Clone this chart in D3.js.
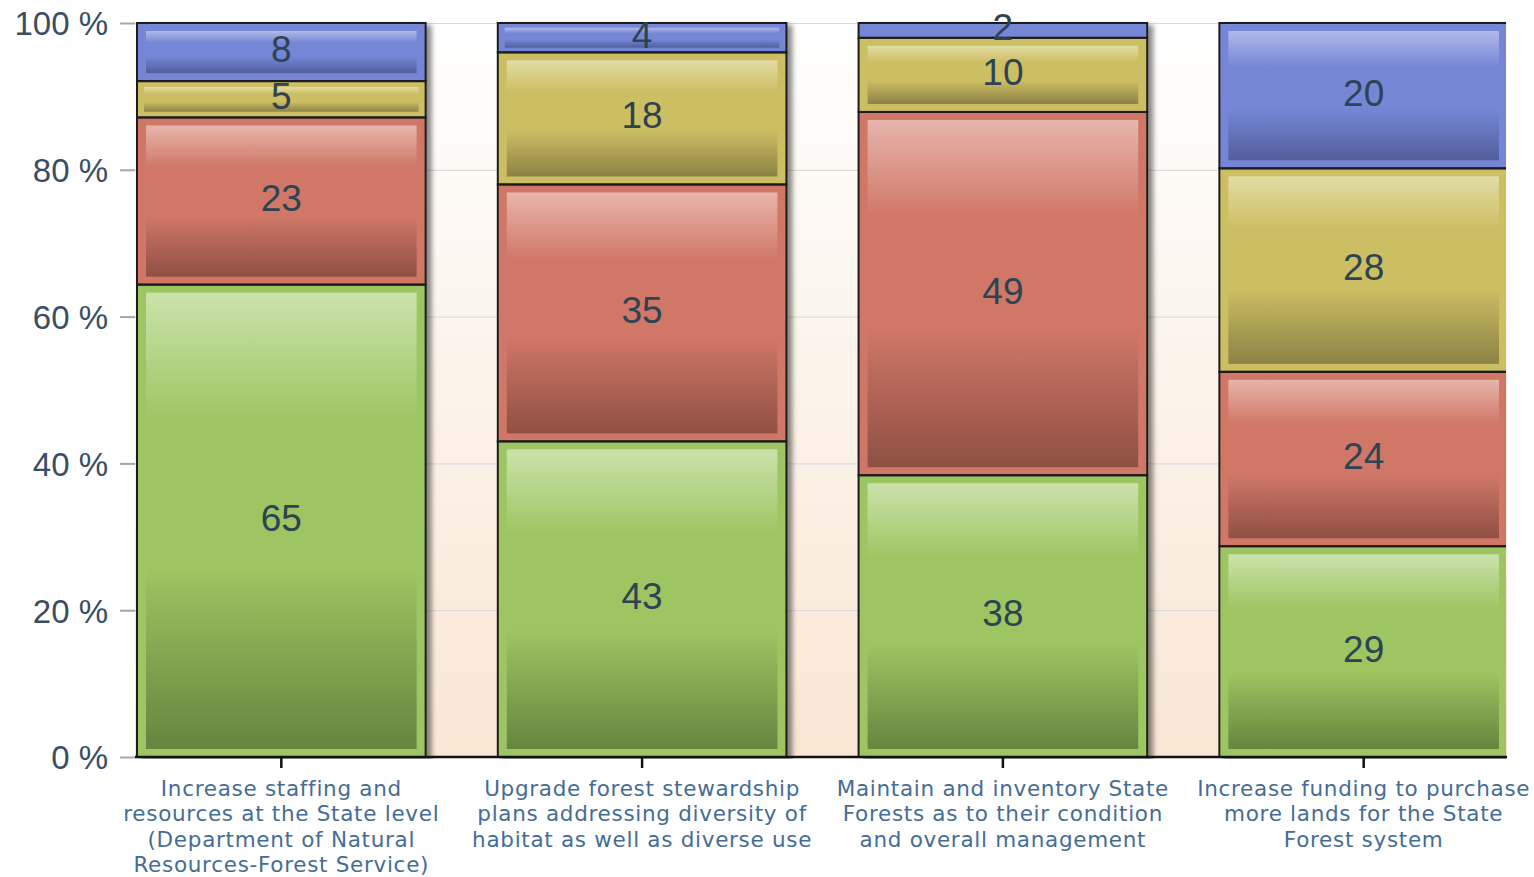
<!DOCTYPE html>
<html>
<head>
<meta charset="utf-8">
<script src="https://cdn.jsdelivr.net/npm/d3@7"></script>
<style>
  html, body { margin: 0; padding: 0; background: #ffffff; }
  svg { display: block; }
</style>
</head>
<body>
<svg id="chart" width="1534" height="877"></svg>
<script>
// Survey priorities, stacked to 100 % per category
const categories = [
  ["Increase staffing and", "resources at the State level", "(Department of Natural", "Resources-Forest Service)"],
  ["Upgrade forest stewardship", "plans addressing diversity of", "habitat as well as diverse use"],
  ["Maintain and inventory State", "Forests as to their condition", "and overall management"],
  ["Increase funding to purchase", "more lands for the State", "Forest system"]
];
const greenValues  = [65, 43, 38, 29];
const redValues    = [23, 35, 49, 24];
const yellowValues = [5, 18, 10, 28];
const blueValues   = [8, 4, 2, 20];
const yTicks = [0, 20, 40, 60, 80, 100];
const yTickLabels = ["0 %", "20 %", "40 %", "60 %", "80 %", "100 %"];

const seriesKeys = ["green", "red", "yellow", "blue"];
const seriesValues = { green: greenValues, red: redValues, yellow: yellowValues, blue: blueValues };
const palette = {
  green:  { base: "#9dc662", light: "#cbe2ab", dark: "#66853f" },
  red:    { base: "#d07767", light: "#e6b5ab", dark: "#8f5044" },
  yellow: { base: "#ccbe62", light: "#e2dca6", dark: "#8c8246" },
  blue:   { base: "#7586d6", light: "#b0b9e8", dark: "#525e9c" }
};

const rows = categories.map((c, i) => {
  const r = { idx: i };
  seriesKeys.forEach(k => { r[k] = seriesValues[k][i]; });
  return r;
});

const plot = { left: 135, right: 1507, top: 23, bottom: 757 };

const svg = d3.select("#chart");
const defs = svg.append("defs");

// plot background: white fading to peach
const bg = defs.append("linearGradient").attr("id", "plotBg")
  .attr("x1", 0).attr("y1", 0).attr("x2", 0).attr("y2", 1);
bg.append("stop").attr("offset", 0).attr("stop-color", "#ffffff");
bg.append("stop").attr("offset", 1).attr("stop-color", "#f9e7d4");

seriesKeys.forEach(k => {
  const g = defs.append("linearGradient").attr("id", "grad-" + k)
    .attr("x1", 0).attr("y1", 0).attr("x2", 0).attr("y2", 1);
  g.append("stop").attr("offset", 0).attr("stop-color", palette[k].light);
  g.append("stop").attr("offset", 0.28).attr("stop-color", palette[k].base);
  g.append("stop").attr("offset", 0.6).attr("stop-color", palette[k].base);
  g.append("stop").attr("offset", 1).attr("stop-color", palette[k].dark);
});

const shadow = defs.append("filter").attr("id", "barShadow")
  .attr("x", "-5%").attr("y", "-5%").attr("width", "115%").attr("height", "115%");
shadow.append("feDropShadow").attr("dx", 5).attr("dy", 3)
  .attr("stdDeviation", 2.5).attr("flood-color", "#000").attr("flood-opacity", 0.45);

defs.append("clipPath").attr("id", "plotClip").append("rect")
  .attr("x", plot.left).attr("y", plot.top - 2)
  .attr("width", plot.right - 1 - plot.left).attr("height", plot.bottom - plot.top + 4);

const x = d3.scaleBand()
  .domain(d3.range(categories.length))
  .range([137, 1508])
  .paddingInner(0.2)
  .paddingOuter(0);

const y = d3.scaleLinear().domain([0, 100]).range([plot.bottom, plot.top]);

svg.append("rect")
  .attr("x", plot.left).attr("y", plot.top)
  .attr("width", plot.right - plot.left).attr("height", plot.bottom - plot.top)
  .attr("fill", "url(#plotBg)");

// gridlines + y ticks
const yAxis = d3.axisLeft(y).tickValues(yTicks)
  .tickSize(plot.right - plot.left + 15)
  .tickFormat((d, i) => yTickLabels[i]);
const yg = svg.append("g").attr("transform", `translate(${plot.right},0)`).call(yAxis);
yg.select(".domain").remove();
yg.selectAll(".tick line").attr("stroke", "#dcdcdc").attr("stroke-width", 1.2);
yg.selectAll(".tick").append("line")
  .attr("x1", -(plot.right - plot.left) - 15).attr("x2", -(plot.right - plot.left))
  .attr("stroke", "#a6a6a6").attr("stroke-width", 2);
yg.selectAll(".tick text")
  .attr("x", -(plot.right - plot.left) - 27)
  .attr("dy", "0.36em")
  .attr("font-family", "'Liberation Sans', Arial, sans-serif")
  .attr("font-size", 33)
  .attr("fill", "#3a4d63");

// stacked bars
const stack = d3.stack().keys(seriesKeys).offset(d3.stackOffsetExpand);
const stacked = stack(rows);

const barsLayer = svg.append("g").attr("clip-path", "url(#plotClip)");
const bars = barsLayer.selectAll("g.bar")
  .data(d3.range(categories.length))
  .join("g").attr("class", "bar")
  .attr("filter", "url(#barShadow)");

const segments = [];
stacked.forEach(layer => {
  layer.forEach((seg, i) => {
    segments.push({ key: layer.key, i, y0: seg[0] * 100, y1: seg[1] * 100, value: seriesValues[layer.key][i] });
  });
});

bars.each(function (i) {
  const g = d3.select(this);
  const segs = segments.filter(s => s.i === i);
  const bx = x(i), bw = x.bandwidth();
  segs.forEach(s => {
    const top = y(s.y1), bot = y(s.y0), h = bot - top;
    g.append("rect")
      .attr("x", bx).attr("y", top).attr("width", bw).attr("height", h)
      .attr("fill", palette[s.key].base);
    if (h >= 20) {
      const vpad = Math.min(8, h * 0.16);
      const hpad = h >= 45 ? 9 : 7;
      g.append("rect")
        .attr("x", bx + hpad).attr("y", top + vpad)
        .attr("width", bw - 2 * hpad).attr("height", h - 2 * vpad)
        .attr("fill", `url(#grad-${s.key})`);
    }
  });
  // dark outlines between and around segments
  segs.forEach(s => {
    const top = y(s.y1), bot = y(s.y0);
    g.append("rect")
      .attr("x", bx).attr("y", top).attr("width", bw).attr("height", bot - top)
      .attr("fill", "none").attr("stroke", "#1e1e1e").attr("stroke-width", 2);
  });
});

// value labels
svg.append("g").selectAll("text")
  .data(segments)
  .join("text")
  .attr("x", d => x(d.i) + x.bandwidth() / 2)
  .attr("y", d => (y(d.y0) + y(d.y1)) / 2)
  .attr("dy", "0.27em")
  .attr("text-anchor", "middle")
  .attr("font-family", "'Liberation Sans', Arial, sans-serif")
  .attr("font-size", 37)
  .attr("fill", "#2d4352")
  .text(d => d.value);

// x axis
const xAxis = d3.axisBottom(x).tickSize(11).tickFormat("");
const xg = svg.append("g").attr("transform", `translate(0,${plot.bottom})`).call(xAxis);
xg.select(".domain").remove();
xg.append("line").attr("x1", plot.left).attr("x2", plot.right)
  .attr("stroke", "#111").attr("stroke-width", 2.5);
xg.selectAll(".tick line").attr("stroke", "#111").attr("stroke-width", 2.5);

// wrapped category labels
const catLabels = svg.append("g");
categories.forEach((lines, i) => {
  const t = catLabels.append("text")
    .attr("text-anchor", "middle")
    .attr("font-family", "'DejaVu Sans', Verdana, sans-serif")
    .attr("font-size", 21.5)
    .attr("letter-spacing", 0.7)
    .attr("fill", "#456c96");
  lines.forEach((ln, j) => {
    t.append("tspan")
      .attr("x", x(i) + x.bandwidth() / 2)
      .attr("y", 796 + j * 25.3)
      .text(ln);
  });
});
</script>
</body>
</html>
